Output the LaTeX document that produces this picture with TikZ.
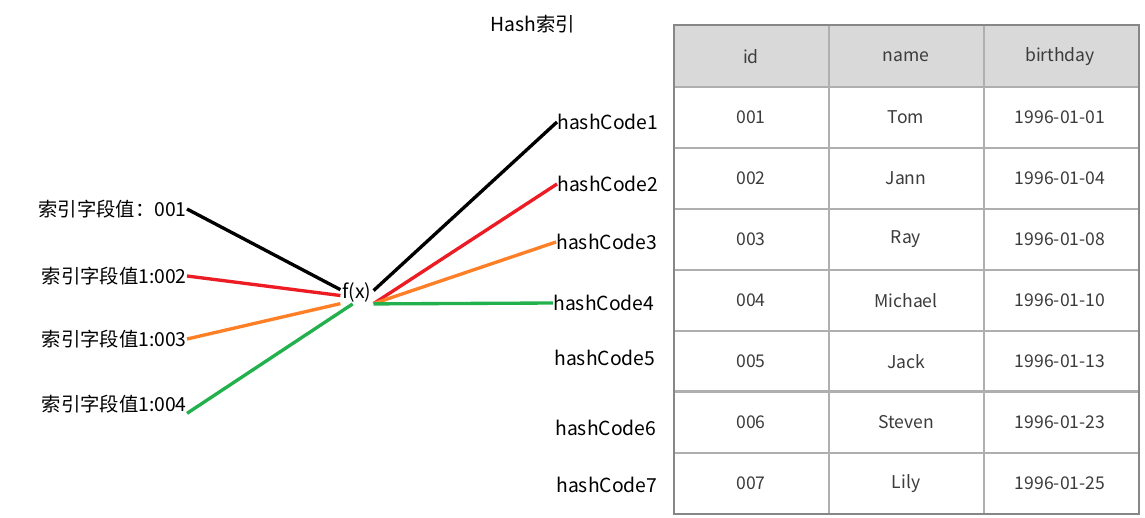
\documentclass[tikz,border=0pt]{standalone}
\usepackage{fontspec}
\setmainfont{Noto Sans CJK SC}
\usetikzlibrary{positioning}
\definecolor{linkred}{RGB}{237, 28, 36}
\definecolor{linkorange}{RGB}{255, 127, 39}
\definecolor{linkgreen}{RGB}{34, 177, 76}
\definecolor{gridgray}{RGB}{175, 175, 175}
\definecolor{framegray}{RGB}{135, 135, 135}
\definecolor{headgray}{RGB}{217, 217, 217}
\definecolor{celltext}{RGB}{60, 60, 60}

\begin{document}
\begin{tikzpicture}[
			x=0.02cm, y=-0.02cm,
			keynode/.style={anchor=east, inner sep=0pt, font=\fontsize{11}{13}\selectfont},
			hashnode/.style={anchor=west, inner sep=0pt, font=\fontsize{11}{13}\selectfont},
			cellnode/.style={inner sep=0pt, text=celltext, font=\fontsize{10}{12}\selectfont},
			fanline/.style={line width=1.9pt}
		]
		\useasboundingbox[fill=white] (0,0) rectangle (1145,517);
		
		% Title
		\node[font=\fontsize{11}{13}\selectfont] (title) at (533,24) {Hash索引};
		
		% Index values
		\node[keynode] (k1) at (187,209) {索引字段值：001};
		\node[keynode] (k2) at (187,276) {索引字段值1:002};
		\node[keynode] (k3) at (187,339) {索引字段值1:003};
		\node[keynode] (k4) at (187,404) {索引字段值1:004};
		
		% Hash function
		\node[inner sep=1pt, font=\fontsize{11}{13}\selectfont] (fx) at (357,292) {f(x)};
		
		% Hash codes
		\node[hashnode] (h1) at (557,122) {hashCode1};
		\node[hashnode] (h2) at (557,184) {hashCode2};
		\node[hashnode] (h3) at (556,242) {hashCode3};
		\node[hashnode] (h4) at (553,303) {hashCode4};
		\node[hashnode] (h5) at (554,358) {hashCode5};
		\node[hashnode] (h6) at (555,428) {hashCode6};
		\node[hashnode] (h7) at (556,485) {hashCode7};
		
		% Fan in
		\draw[fanline, black] (k1.east) -- (fx.172);
		\draw[fanline, linkred] (k2.east) -- (fx.192);
		\draw[fanline, linkorange] (k3.east) -- (fx.215);
		\draw[fanline, linkgreen] (k4.south east) -- (fx.250);
		
		% Fan out
		\draw[fanline, black] (fx.5) -- (h1.west);
		\draw[fanline, linkred] (fx.325) -- (h2.west);
		\draw[fanline, linkorange] (fx.325) -- (h3.west);
		\draw[fanline, linkgreen] (fx.south east) -- (h4.west);
		
		% Table
		\fill[headgray] (674,25) rectangle (1139,87);
		\foreach \y in {87,148,...,453}
			\draw[gridgray, line width=0.8pt] (674,\y) -- (1139,\y);
		\draw[gridgray, line width=1.6pt] (674,391) -- (1139,391);
		\foreach \x in {829,984}
			\draw[gridgray, line width=0.8pt] (\x,25) -- (\x,514);
		\draw[framegray, line width=1.2pt] (674,25) rectangle (1139,514);
		
		\node[cellnode] (hid) at (751,57) {id};
		\node[cellnode] (hname) at (906,57) {name};
		\node[cellnode] (hbday) at (1060,57) {birthday};
		\foreach \id/\name/\bday [count=\r] in {001/Tom/1996-01-01, 002/Jann/1996-01-04, 003/Ray/1996-01-08, 004/Michael/1996-01-10, 005/Jack/1996-01-13, 006/Steven/1996-01-23, 007/Lily/1996-01-25}
		{
			\node[cellnode] (id\r) at (751,{56.5+61*\r}) {\id};
			\node[cellnode] (name\r) at (906,{56.5+61*\r}) {\name};
			\node[cellnode] (bday\r) at (1060,{56.5+61*\r}) {\bday};
		}
		\end{tikzpicture}
\end{document}
